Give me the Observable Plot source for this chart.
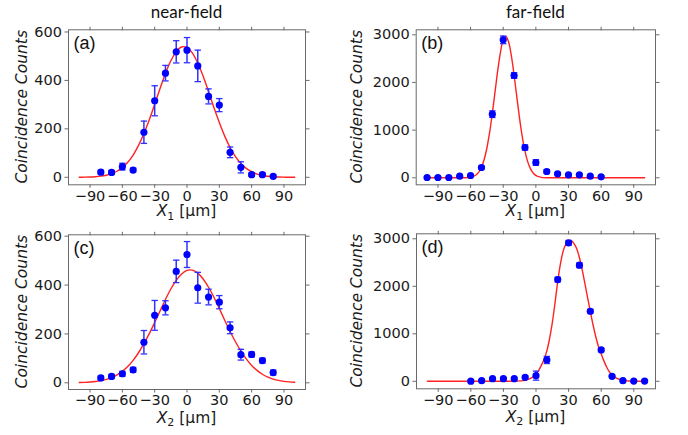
<!DOCTYPE html>
<html>
<head>
<meta charset="utf-8">
<script src="https://cdn.jsdelivr.net/npm/d3@7"></script>
<script src="https://cdn.jsdelivr.net/npm/@observablehq/plot@0.6"></script>
<style>
  body { margin: 0; background: #fff; }
  #chart { position: relative; width: 688px; height: 435px; overflow: hidden; background: #fff; }
  #chart svg { position: absolute; }
</style>
</head>
<body>
<div id="chart"></div>
<script>
// ---------- data ----------
const xTicks = [-90, -60, -30, 0, 30, 60, 90];
const yTicksNear = [0, 200, 400, 600];
const yTicksFar = [0, 1000, 2000, 3000];

// (a) near-field, X1
const xA = [-80, -70, -60, -50, -40, -30, -20, -10, 0, 10, 20, 30, 40, 50, 60, 70, 80];
const cntA = [21, 20, 44, 30, 186, 316, 430, 518, 525, 460, 334, 298, 103, 41, 11, 11, 4];
const errA = [8, 8, 14, 8, 46, 62, 32, 46, 52, 65, 31, 27, 22, 23, 7, 7, 6];
const fitXA = [-100,-95,-90,-85,-80,-75,-70,-65,-60,-55,-50,-45,-40,-35,-30,-25,-20,-15,-10,-5,0,5,10,15,20,25,30,35,40,45,50,55,60,65,70,75,80,85,90,95,100];
const fitA = [0.3,0.6,1.3,2.5,4.7,8.5,14.9,25,40,62,92,132,181,238,301,367,429,481,519,538,536,513,472,417,354,288,226,170,123,85,57,37,23,13.4,7.6,4.2,2.2,1.1,0.5,0.25,0.1];

// (b) far-field, X1
const xB = [-100, -90, -80, -70, -60, -50, -40, -30, -20, -10, 0, 10, 20, 30, 40, 50, 60];
const cntB = [6, 6, 6, 34, 48, 216, 1335, 2894, 2146, 636, 321, 132, 83, 62, 62, 34, 20];
const errB = [20, 20, 20, 20, 20, 30, 70, 80, 60, 55, 60, 40, 25, 25, 25, 20, 20];
const fitXB = [-100,-90,-80,-70,-65,-62.5,-60,-57.5,-55,-52.5,-50,-47.5,-45,-42.5,-40,-37.5,-35,-32.5,-30,-27.5,-25,-22.5,-20,-17.5,-15,-12.5,-10,-7.5,-5,-2.5,0,2.5,5,7.5,10,15,20,30,40,50,60,70,80,90,100];
const fitB = [0,0,0,0.3,2,5,13,29,60,120,221,385,625,951,1355,1807,2257,2639,2890,2965,2845,2558,2153,1696,1252,865,560,339,192,102,51,24,10,4,1.6,0.2,0,0,0,0,0,0,0,0,0];

// (c) near-field, X2
const xC = [-80, -70, -60, -50, -40, -30, -20, -10, 0, 10, 20, 30, 40, 50, 60, 70, 80];
const cntC = [20, 26, 37, 53, 166, 276, 307, 456, 525, 389, 351, 330, 225, 115, 116, 91, 42];
const errC = [8, 8, 10, 10, 48, 61, 29, 46, 53, 63, 32, 27, 24, 22, 10, 10, 10];
const fitXC = [-100,-95,-90,-85,-80,-75,-70,-65,-60,-55,-50,-45,-40,-35,-30,-25,-20,-15,-10,-5,0,5,10,15,20,25,30,35,40,45,50,55,60,65,70,75,80,85,90,95,100];
const fitC = [1.0,1.85,3.2,5.4,8.8,14,21.6,32.4,47.2,66.8,92,123,160,201,247,294,341,384,419,445,460,461,449,425,391,350,304,256,210,168,130,98,71,51,35,23.5,15.3,9.7,6.0,3.6,2.1];

// (d) far-field, X2
const xD = [-60, -50, -40, -30, -20, -10, 0, 10, 20, 30, 40, 50, 60, 70, 80, 90, 100];
const cntD = [3, 14, 56, 56, 56, 84, 119, 449, 2142, 2914, 2444, 1475, 660, 105, 14, 4, 4];
const errD = [20, 20, 20, 20, 20, 30, 95, 75, 50, 50, 50, 40, 35, 25, 20, 20, 20];
const fitXD = [-100,-90,-80,-70,-60,-50,-40,-30,-20,-15,-10,-5,0,2.5,5,7.5,10,12.5,15,17.5,20,22.5,25,27.5,30,32.5,35,37.5,40,42.5,45,47.5,50,52.5,55,57.5,60,62.5,65,67.5,70,75,80,85,90,95,100];
const fitD = [0,0,0,0,0,0,0,0.5,3,8,20,60,150,230,340,470,640,900,1230,1650,2100,2470,2740,2890,2950,2962,2900,2790,2600,2350,2060,1760,1470,1190,940,730,580,430,300,200,130,55,20,7,2,0.5,0.1];

// ---------- layout ----------
const panels = [
  { letter: "(a)", title: "near-field", sub: "1", x: xA, y: cntA, e: errA, fx: fitXA, fy: fitA,
    yDomain: [-31, 609], yTicks: yTicksNear,
    left: 0, top: 0, w: 344, h: 218, mL: 68, mR: 39, mT: 29.3, mB: 33.7, ylabX: 26.5, xlabOff: 32 },
  { letter: "(b)", title: "far-field", sub: "1", x: xB, y: cntB, e: errB, fx: fitXB, fy: fitB,
    yDomain: [-147, 3105], yTicks: yTicksFar,
    left: 344, top: 0, w: 344, h: 218, mL: 71.7, mR: 33, mT: 29.3, mB: 33.7, ylabX: 17.5, xlabOff: 32 },
  { letter: "(c)", title: null, sub: "2", x: xC, y: cntC, e: errC, fx: fitXC, fy: fitC,
    yDomain: [-27.4, 605.7], yTicks: yTicksNear,
    left: 0, top: 218, w: 344, h: 217, mL: 68, mR: 39, mT: 16.3, mB: 46, ylabX: 26.5, xlabOff: 33.5 },
  { letter: "(d)", title: null, sub: "2", x: xD, y: cntD, e: errD, fx: fitXD, fy: fitD,
    yDomain: [-158, 3105], yTicks: yTicksFar,
    left: 344, top: 218, w: 344, h: 217, mL: 72, mR: 33, mT: 15.3, mB: 46.7, ylabX: 17.5, xlabOff: 33.5 }
];

const capSymbol = {
  draw(ctx, size) {
    const r = Math.sqrt(size / Math.PI);
    ctx.moveTo(-r, 0);
    ctx.lineTo(r, 0);
  }
};

const blue = "#0000ff";
const errColor = "#3030ff";
const red = "#ff2222";
const axisGray = "#6a6a6a";
const fmt = d3.format("d");

const chart = document.getElementById("chart");

for (const p of panels) {
  const pts = p.x.map((x, i) => ({ x, y: p.y[i], e: p.e[i] }));
  const fit = p.fx.map((x, i) => ({ x, y: p.fy[i] }));

  const svgEl = Plot.plot({
    width: p.w,
    height: p.h,
    marginLeft: p.mL,
    marginRight: p.mR,
    marginTop: p.mT,
    marginBottom: p.mB,
    x: { domain: [-110, 110] },
    y: { domain: p.yDomain },
    style: { fontFamily: "DejaVu Sans", fontSize: "14.5px", color: "#1a1a1a", background: "transparent", overflow: "visible" },
    marks: [
      Plot.line(fit, { x: "x", y: "y", stroke: red, strokeWidth: 1.4, curve: "catmull-rom" }),
      Plot.ruleX(pts, { x: "x", y1: d => d.y - d.e, y2: d => d.y + d.e, stroke: errColor, strokeWidth: 1.5 }),
      Plot.dot(pts, { x: "x", y: d => d.y + d.e, symbol: capSymbol, r: 3.2, fill: "none", stroke: errColor, strokeWidth: 1.3 }),
      Plot.dot(pts, { x: "x", y: d => d.y - d.e, symbol: capSymbol, r: 3.2, fill: "none", stroke: errColor, strokeWidth: 1.3 }),
      Plot.dot(pts, { x: "x", y: "y", r: 3.6, fill: blue, stroke: "none" }),
      Plot.frame({ stroke: axisGray, strokeWidth: 1 }),
      Plot.axisX(xTicks, { anchor: "bottom", tickSize: 3.5, tickPadding: 2, label: null, tickFormat: fmt, stroke: axisGray }),
      Plot.axisX(xTicks, { anchor: "top", tickSize: 3.5, label: null, tickFormat: () => "", stroke: axisGray }),
      Plot.axisY(p.yTicks, { anchor: "left", tickSize: 3.5, tickPadding: 3, label: null, tickFormat: fmt, stroke: axisGray }),
      Plot.axisY(p.yTicks, { anchor: "right", tickSize: 3.5, label: null, tickFormat: () => "", stroke: axisGray }),
      Plot.text([p.letter], { text: d => d, frameAnchor: "top-left", dx: 5, dy: 6.5, lineAnchor: "top", textAnchor: "start", fontSize: 18, fontFamily: "Liberation Sans", fill: "#111" })
    ]
  });

  svgEl.style.left = p.left + "px";
  svgEl.style.top = p.top + "px";

  const svg = d3.select(svgEl);
  const cx = p.mL + (p.w - p.mL - p.mR) / 2;
  const cy = p.mT + (p.h - p.mT - p.mB) / 2;

  // y-axis label
  svg.append("text")
    .attr("transform", `translate(${p.ylabX},${cy}) rotate(-90)`)
    .attr("text-anchor", "middle")
    .attr("fill", "#1a1a1a")
    .style("font-family", "DejaVu Sans")
    .style("font-style", "italic")
    .style("font-size", "15.5px")
    .text("Coincidence Counts");

  // x-axis label
  const xl = svg.append("text")
    .attr("x", cx)
    .attr("y", p.h - p.mB + p.xlabOff)
    .attr("text-anchor", "middle")
    .attr("fill", "#1a1a1a")
    .style("font-family", "DejaVu Sans")
    .style("font-size", "15.5px");
  xl.append("tspan").style("font-style", "italic").text("X");
  xl.append("tspan").attr("dy", 3.5).style("font-size", "11px").text(p.sub);
  xl.append("tspan").attr("dy", -3.5).text(" [µm]");

  // column title
  if (p.title) {
    svg.append("text")
      .attr("x", cx)
      .attr("y", 18)
      .attr("text-anchor", "middle")
      .attr("fill", "#111")
      .style("font-family", "Lato")
      .style("font-size", "17px")
      .text(p.title);
  }

  chart.appendChild(svgEl);
}
</script>
</body>
</html>
